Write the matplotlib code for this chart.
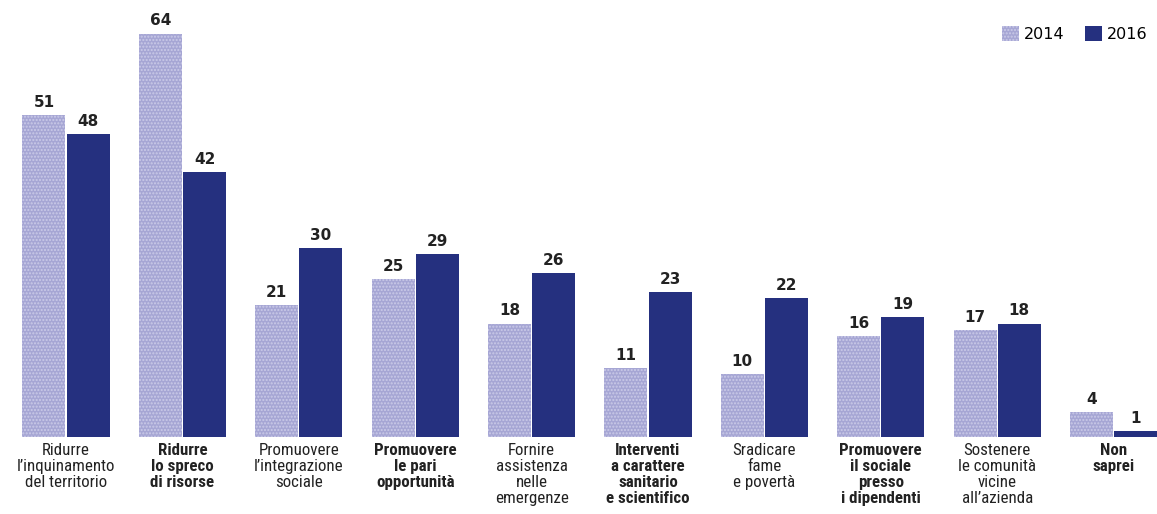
import numpy as np
import matplotlib
matplotlib.use("Agg")
from matplotlib import pyplot as plt
from matplotlib.patches import Patch
from matplotlib import font_manager as fm

names = set(f.name for f in fm.fontManager.ttflist)
cond = [n for n in ['Liberation Sans Narrow', 'DejaVu Sans Condensed', 'Roboto Condensed', 'Open Sans Condensed'] if n in names]
plt.rcParams['font.family'] = cond + ['DejaVu Sans']

labels = ["Ridurre\nl’inquinamento\ndel territorio",
          "Ridurre\nlo spreco\ndi risorse",
          "Promuovere\nl’integrazione\nsociale",
          "Promuovere\nle pari\nopportunità",
          "Fornire\nassistenza\nnelle\nemergenze",
          "Interventi\na carattere\nsanitario\ne scientifico",
          "Sradicare\nfame\ne povertà",
          "Promuovere\nil sociale\npresso\ni dipendenti",
          "Sostenere\nle comunità\nvicine\nall’azienda",
          "Non\nsaprei"]
bold = [False, True, False, True, False, True, False, True, False, True]
v2014 = [51, 64, 21, 25, 18, 11, 10, 16, 17, 4]
v2016 = [48, 42, 30, 29, 26, 23, 22, 19, 18, 1]

c14 = '#a6a6d4'
c16 = '#25307f'

fig = plt.figure(figsize=(11.57, 5.14), dpi=100)
ax = fig.add_axes([0, 77/514, 1, 435/514])

x = np.arange(len(labels))
w = 0.369
ax.bar(x - 0.19, v2014, w, color=c14, hatch='.....', edgecolor='#cbcbe8', linewidth=0)
ax.bar(x + 0.19, v2016, w, color=c16, linewidth=0)

lab_size = 12.2 if cond else 10
for i in range(len(x)):
    ax.text(x[i] - 0.19, v2014[i] + 0.8, str(v2014[i]), ha='center', va='bottom',
            fontsize=11, fontweight='bold', family='DejaVu Sans', color='#222222')
    ax.text(x[i] + 0.19, v2016[i] + 0.8, str(v2016[i]), ha='center', va='bottom',
            fontsize=11, fontweight='bold', family='DejaVu Sans', color='#222222')
    ax.text(x[i], -1.0, labels[i], ha='center', va='top', fontsize=lab_size,
            fontweight='bold' if bold[i] else 'normal', linespacing=1.07,
            color='#222222')

ax.set_xlim(-0.567, 9.373)
ax.set_ylim(0, 69)
ax.axis('off')

handles = [Patch(facecolor=c14, hatch='.....', edgecolor='#cbcbe8', linewidth=0),
           Patch(facecolor=c16, linewidth=0)]
leg = ax.legend(handles, ['2014', '2016'], loc='upper right', ncol=2, frameon=False,
                prop={'family': 'DejaVu Sans', 'size': 11.5}, handlelength=1.05,
                handleheight=1.05, columnspacing=1.3, handletextpad=0.3,
                bbox_to_anchor=(1.004, 0.978))

fig.savefig('out.png', dpi=100)
